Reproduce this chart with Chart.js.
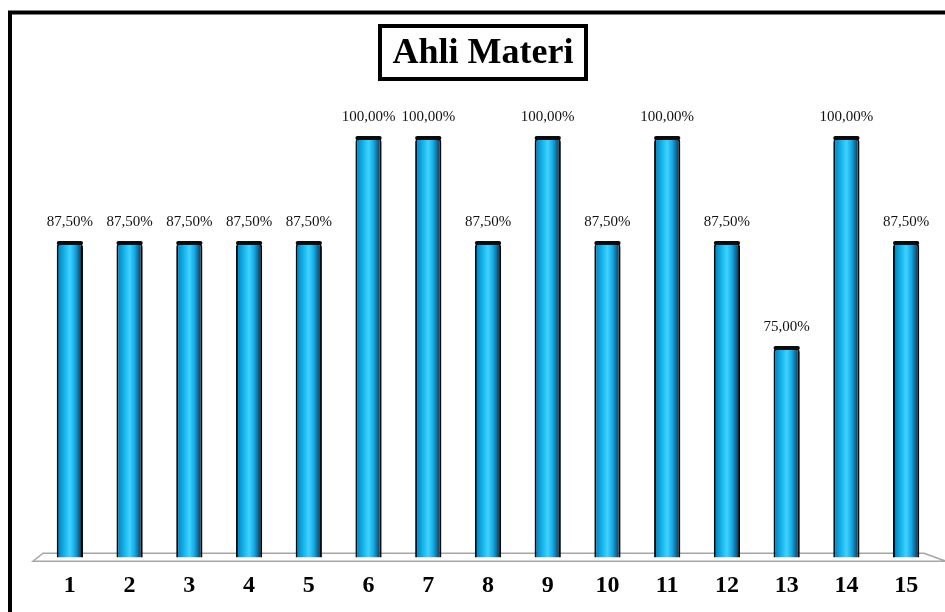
<!DOCTYPE html>
<html>
<head>
<meta charset="utf-8">
<script src="https://cdn.jsdelivr.net/npm/chart.js@4.4.0/dist/chart.umd.min.js"></script>
<style>
  html, body { margin: 0; padding: 0; background: #fff; }
  #wrap { width: 945px; height: 612px; position: relative; }
</style>
</head>
<body>
<div id="wrap"><canvas id="chart" width="945" height="612"></canvas></div>
<script>
// Данные
const categories = ['1', '2', '3', '4', '5', '6', '7', '8', '9', '10', '11', '12', '13', '14', '15'];
const values = [87.5, 87.5, 87.5, 87.5, 87.5, 100, 100, 87.5, 100, 87.5, 100, 87.5, 75, 100, 87.5];
const chartTitle = 'Ahli Materi';

const BAR_PCT = 0.44;

function fmt(v) {
  return v.toFixed(2).replace('.', ',') + '%';
}

// Градиент цилиндра
function cylinderFill(ctx) {
  const chart = ctx.chart;
  const xs = chart.scales.x;
  if (!xs || !chart.chartArea) return '#19b4ec';
  const cx = xs.getPixelForValue(ctx.dataIndex);
  const w = (xs.width / categories.length) * BAR_PCT;
  const g = chart.ctx.createLinearGradient(cx - w / 2, 0, cx + w / 2, 0);
  g.addColorStop(0, '#052a40');
  g.addColorStop(0.1, '#0a8ac4');
  g.addColorStop(0.32, '#18b8ee');
  g.addColorStop(0.5, '#40d2ff');
  g.addColorStop(0.7, '#12a8e2');
  g.addColorStop(0.88, '#075a86');
  g.addColorStop(1, '#021826');
  return g;
}

// Пол, рамка, заголовок, подписи
const decor = {
  id: 'decor',
  beforeDatasetsDraw(chart) {
    const c = chart.ctx;
    const a = chart.chartArea;
    const base = chart.scales.y.getPixelForValue(50);
    c.save();
    c.strokeStyle = '#a6a6a6';
    c.lineWidth = 1.5;
    c.beginPath();
    c.moveTo(a.left + 3, base - 4);
    c.lineTo(a.right - 12, base - 4);
    c.lineTo(a.right + 10, base + 4);
    c.lineTo(a.left - 7, base + 4);
    c.closePath();
    c.stroke();
    c.restore();
  },
  afterDatasetsDraw(chart) {
    const c = chart.ctx;
    const meta = chart.getDatasetMeta(0);
    c.save();
    meta.data.forEach((bar, i) => {
      const w = bar.width;
      // тёмная крышка цилиндра
      c.fillStyle = '#0b0b0b';
      c.beginPath();
      c.roundRect(bar.x - w / 2, bar.y - 1, w, 4, 3);
      c.fill();
      // подписи значений
      c.fillStyle = '#111';
      c.font = '15px "Liberation Serif", "Times New Roman", serif';
      c.textAlign = 'center';
      c.textBaseline = 'middle';
      c.fillText(fmt(values[i]), bar.x, bar.y - 20);
    });
    // заголовок в рамке
    c.font = 'bold 36px "Liberation Serif", "Times New Roman", serif';
    c.textAlign = 'center';
    c.textBaseline = 'middle';
    c.fillStyle = '#000';
    c.fillText(chartTitle, 483, 54);
    c.lineWidth = 4;
    c.strokeStyle = '#000';
    c.strokeRect(380, 26, 206, 53);
    // внешняя рамка
    c.strokeRect(10, 12.5, 1000, 1000);
    c.restore();
  }
};

new Chart(document.getElementById('chart'), {
  type: 'bar',
  data: {
    labels: categories,
    datasets: [{
      data: values,
      backgroundColor: cylinderFill,
      borderColor: '#0b0b0b',
      borderWidth: 2,
      borderRadius: 5,
      borderSkipped: false,
      categoryPercentage: 1,
      barPercentage: BAR_PCT
    }]
  },
  options: {
    responsive: false,
    animation: false,
    layout: { padding: { top: 95, left: 40, right: 9, bottom: -2 } },
    plugins: {
      legend: { display: false },
      title: { display: false },
      tooltip: { enabled: false }
    },
    scales: {
      x: {
        grid: { display: false, drawTicks: false },
        border: { display: false },
        ticks: {
          color: '#000',
          padding: 14,
          font: { family: '"Liberation Serif", "Times New Roman", serif', size: 24, weight: 'bold' }
        }
      },
      y: {
        display: false,
        min: 50,
        max: 105
      }
    }
  },
  plugins: [decor]
});
</script>
</body>
</html>
